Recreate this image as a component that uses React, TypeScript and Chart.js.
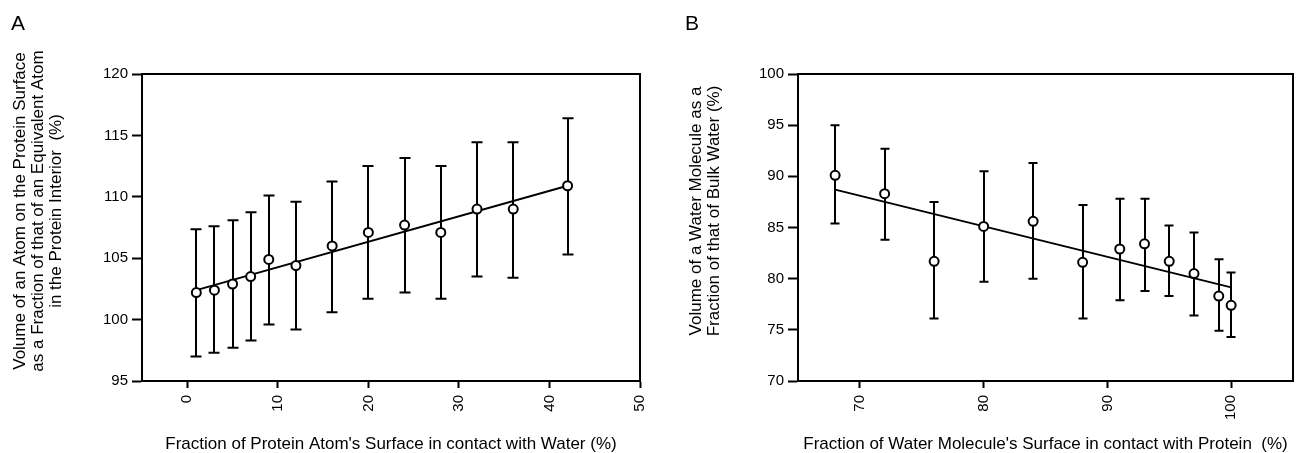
import React, { useEffect, useRef } from "react";
import { Chart, registerables } from "chart.js";

Chart.register(...registerables);

// ---------- Panel A data ----------
const xA = [1, 3, 5, 7, 9, 12, 16, 20, 24, 28, 32, 36, 42];
const yA = [102.2, 102.4, 102.9, 103.5, 104.9, 104.4, 106.0, 107.1, 107.7, 107.1, 109.0, 109.0, 110.9];
const hiA = [107.35, 107.6, 108.1, 108.75, 110.1, 109.6, 111.25, 112.5, 113.15, 112.5, 114.45, 114.45, 116.4];
const loA = [97.0, 97.3, 97.7, 98.3, 99.6, 99.2, 100.6, 101.7, 102.2, 101.7, 103.5, 103.4, 105.3];
const fitXA = [1, 42];
const fitYA = [102.4, 110.9];
const xTicksA = [0, 10, 20, 30, 40, 50];
const yTicksA = [95, 100, 105, 110, 115, 120];
const yTitleA = [
  "Volume of an Atom on the Protein Surface",
  "as a Fraction of that of an Equivalent Atom",
  "in the Protein Interior  (%)",
];
const xTitleA = "Fraction of Protein Atom's Surface in contact with Water (%)";

// ---------- Panel B data ----------
const xB = [68, 72, 76, 80, 84, 88, 91, 93, 95, 97, 99, 100];
const yB = [90.1, 88.3, 81.7, 85.1, 85.6, 81.6, 82.9, 83.4, 81.7, 80.5, 78.3, 77.4];
const hiB = [95.0, 92.7, 87.5, 90.5, 91.3, 87.2, 87.8, 87.8, 85.2, 84.5, 81.9, 80.6];
const loB = [85.4, 83.8, 76.1, 79.7, 80.0, 76.1, 77.9, 78.8, 78.3, 76.4, 74.9, 74.3];
const fitXB = [68, 100];
const fitYB = [88.7, 79.15];
const xTicksB = [70, 80, 90, 100];
const yTicksB = [70, 75, 80, 85, 90, 95, 100];
const yTitleB = ["Volume of a Water Molecule as a", "Fraction of that of Bulk Water (%)"];
const xTitleB = "Fraction of Water Molecule's Surface in contact with Protein  (%)";

const FONT = "'Liberation Sans', Arial, Helvetica, sans-serif";
const H = 453;
const TOP = 74;
const BOTTOM = 381;

type PanelProps = {
  label: string;
  xs: number[];
  ys: number[];
  hi: number[];
  lo: number[];
  fitX: number[];
  fitY: number[];
  xMin: number;
  xMax: number;
  yMin: number;
  yMax: number;
  xTicks: number[];
  yTicks: number[];
  yTitle: string[];
  xTitle: string;
  left: number;
  width: number;
  areaLeft: number;
  areaRight: number;
  titleBaselines: number[];
  labelX: number;
  capHalf: number;
};

function Panel(p: PanelProps) {
  const ref = useRef<HTMLCanvasElement | null>(null);
  useEffect(() => {
    if (!ref.current) return;
    const decor = {
      id: "decor",
      beforeDatasetsDraw(chart: any) {
        const ctx = chart.ctx;
        const xs = chart.scales.x;
        const ysc = chart.scales.y;
        ctx.save();
        ctx.strokeStyle = "#000";
        ctx.lineWidth = 2;
        ctx.lineCap = "butt";
        for (let i = 0; i < p.xs.length; i++) {
          const px = Math.round(xs.getPixelForValue(p.xs[i]));
          const top = ysc.getPixelForValue(p.hi[i]);
          const bot = ysc.getPixelForValue(p.lo[i]);
          ctx.beginPath();
          ctx.moveTo(px, top);
          ctx.lineTo(px, bot);
          ctx.moveTo(px - p.capHalf, top);
          ctx.lineTo(px + p.capHalf, top);
          ctx.moveTo(px - p.capHalf, bot);
          ctx.lineTo(px + p.capHalf, bot);
          ctx.stroke();
        }
        ctx.restore();
      },
      afterDraw(chart: any) {
        const ctx = chart.ctx;
        const a = chart.chartArea;
        ctx.save();
        ctx.strokeStyle = "#000";
        ctx.lineWidth = 2;
        ctx.strokeRect(a.left, a.top, a.right - a.left, a.bottom - a.top);
        ctx.fillStyle = "#000";
        ctx.font = `17px ${FONT}`;
        ctx.textAlign = "center";
        ctx.textBaseline = "alphabetic";
        p.yTitle.forEach((line, i) => {
          ctx.save();
          ctx.translate(p.titleBaselines[i], 211);
          ctx.rotate(-Math.PI / 2);
          ctx.fillText(line, 0, 0);
          ctx.restore();
        });
        ctx.fillText(p.xTitle, (a.left + a.right) / 2, 449);
        ctx.font = `21px ${FONT}`;
        ctx.textAlign = "left";
        ctx.fillText(p.label, p.labelX, 30);
        ctx.restore();
      },
    };

    const chart = new Chart(ref.current, {
      type: "scatter",
      data: {
        datasets: [
          {
            type: "scatter",
            data: p.xs.map((x, i) => ({ x, y: p.ys[i] })),
            pointRadius: 4.5,
            pointBorderWidth: 2,
            pointBorderColor: "#000",
            pointBackgroundColor: "#fff",
            showLine: false,
            order: 0,
          },
          {
            type: "line",
            data: p.fitX.map((x, i) => ({ x, y: p.fitY[i] })),
            borderColor: "#000",
            borderWidth: 2,
            pointRadius: 0,
            fill: false,
            order: 1,
          },
        ],
      },
      options: {
        animation: false,
        responsive: false,
        events: [],
        layout: {
          autoPadding: false,
          padding: { left: 0, top: TOP, right: p.width - p.areaRight, bottom: 0 },
        },
        plugins: { legend: { display: false }, tooltip: { enabled: false } },
        scales: {
          x: {
            type: "linear",
            min: p.xMin,
            max: p.xMax,
            afterBuildTicks: (s: any) => {
              s.ticks = p.xTicks.map((v) => ({ value: v }));
            },
            afterFit: (s: any) => {
              s.height = H - BOTTOM;
              s.paddingLeft = 0;
              s.paddingRight = 0;
            },
            grid: {
              drawOnChartArea: false,
              drawTicks: true,
              tickLength: 7,
              tickWidth: 2,
              tickColor: "#000",
            },
            border: { display: true, color: "#000", width: 2 },
            ticks: {
              minRotation: 90,
              maxRotation: 90,
              autoSkip: false,
              padding: 7,
              color: "#000",
              font: { family: FONT, size: 15 },
            },
          },
          y: {
            type: "linear",
            min: p.yMin,
            max: p.yMax,
            afterBuildTicks: (s: any) => {
              s.ticks = p.yTicks.map((v) => ({ value: v }));
            },
            afterFit: (s: any) => {
              s.width = p.areaLeft;
              s.paddingTop = 0;
              s.paddingBottom = 0;
            },
            grid: {
              drawOnChartArea: false,
              drawTicks: true,
              tickLength: 10,
              tickWidth: 2,
              tickColor: "#000",
            },
            border: { display: true, color: "#000", width: 2 },
            ticks: {
              autoSkip: false,
              padding: 4,
              color: "#000",
              font: { family: FONT, size: 15 },
            },
          },
        },
      },
      plugins: [decor],
    } as any);
    return () => chart.destroy();
  }, []);
  return (
    <canvas
      ref={ref}
      width={p.width}
      height={H}
      style={{ position: "absolute", left: p.left, top: 0, width: p.width, height: H }}
    />
  );
}

export default function App() {
  return (
    <div style={{ position: "absolute", left: 0, top: 0, width: 1297, height: H, background: "#fff", overflow: "hidden" }}>
      <Panel
        label="A"
        xs={xA}
        ys={yA}
        hi={hiA}
        lo={loA}
        fitX={fitXA}
        fitY={fitYA}
        xMin={-5}
        xMax={50}
        yMin={95}
        yMax={120}
        xTicks={xTicksA}
        yTicks={yTicksA}
        yTitle={yTitleA}
        xTitle={xTitleA}
        left={0}
        width={650}
        areaLeft={142}
        areaRight={640}
        titleBaselines={[25, 43, 61]}
        labelX={11}
        capHalf={5.5}
      />
      <Panel
        label="B"
        xs={xB}
        ys={yB}
        hi={hiB}
        lo={loB}
        fitX={fitXB}
        fitY={fitYB}
        xMin={65}
        xMax={105}
        yMin={70}
        yMax={100}
        xTicks={xTicksB}
        yTicks={yTicksB}
        yTitle={yTitleB}
        xTitle={xTitleB}
        left={650}
        width={647}
        areaLeft={148}
        areaRight={643}
        titleBaselines={[51, 69]}
        labelX={35}
        capHalf={4.5}
      />
    </div>
  );
}
